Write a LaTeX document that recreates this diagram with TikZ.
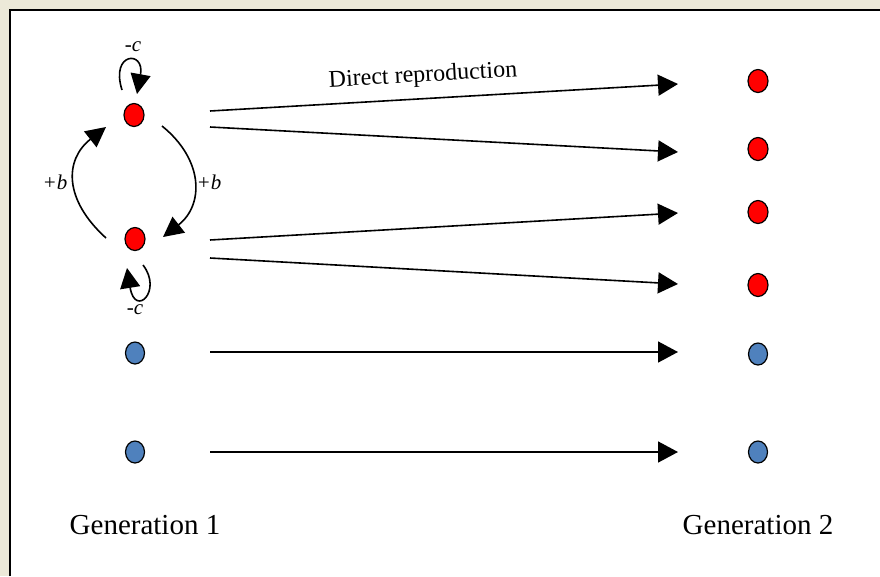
\documentclass[tikz,border=0pt]{standalone}
\usepackage{fontspec}
\setmainfont{Liberation Serif}
\usetikzlibrary{arrows.meta,shapes.geometric,calc}
\definecolor{pagebg}{HTML}{ECE9D8}
\definecolor{cellred}{HTML}{FF0000}
\definecolor{cellblue}{HTML}{4F81BD}
\begin{document}
\begin{tikzpicture}[x=1pt,y=-1pt,
  cell/.style={ellipse,draw=black,line width=1.2pt,inner sep=0pt,minimum width=20pt,minimum height=23pt},
  redcell/.style={cell,fill=cellred},
  bluecell/.style={cell,fill=cellblue,minimum width=19pt,minimum height=22pt},
  repro/.style={line width=1.6pt,-{Triangle[length=20pt,width=21pt]}},
  interact/.style={line width=1.6pt,-{Triangle[length=20pt,width=20pt]}},
  coef/.style={font=\fontsize{21}{23}\selectfont\itshape,inner sep=0pt},
  genlabel/.style={font=\fontsize{29}{32}\selectfont,inner sep=0pt}]
\useasboundingbox (0,0) rectangle (880,576);
% page and frame
\fill[pagebg] (0,0) rectangle (880,576);
\fill[white] (9.5,10) rectangle (880,576);
\draw[line width=2pt] (9.5,576) -- (9.5,10) -- (880,10);

% generation 1
\node[redcell]  (a1) at (134,115) {};
\node[redcell]  (a2) at (135,239) {};
\node[bluecell] (a3) at (135,353) {};
\node[bluecell] (a4) at (135,452) {};
% generation 2
\node[redcell]  (b1) at (758,81)  {};
\node[redcell]  (b2) at (758,149) {};
\node[redcell]  (b3) at (758,212) {};
\node[redcell]  (b4) at (758,285) {};
\node[bluecell] (b5) at (758,354) {};
\node[bluecell] (b6) at (758,452) {};

% direct reproduction
\draw[repro] ($(a1)+(76,-4)$)  -- ($(b1)+(-80,3)$);
\draw[repro] ($(a1)+(76,12)$)  -- ($(b2)+(-80,3)$);
\draw[repro] ($(a2)+(75,1)$)   -- ($(b3)+(-80,1)$);
\draw[repro] ($(a2)+(75,19)$)  -- ($(b4)+(-80,-1)$);
\draw[repro] ($(a3)+(75,-1)$)  -- ($(b5)+(-80,-2)$);
\draw[repro] ($(a4)+(75,0)$)   -- ($(b6)+(-80,0)$);
\node[font=\fontsize{24}{26}\selectfont,rotate=3.3,inner sep=0pt] (dr) at (423,76) {Direct reproduction};

% mutual benefit between the red cells
\draw[interact] ($(a2)+(-29,-1)$) .. controls +(-42,-38) and +(-42,33) .. ($(a1)+(-28,12)$);
\draw[interact] ($(a1)+(28,11)$) .. controls +(42,34) and +(41,-32) .. ($(a2)+(28,-2)$);
\node[coef] (bl) at (55,182) {+b};
\node[coef] (br) at (209,182) {+b};

% self cost loops
\draw[interact] ($(a1)+(-12,-25)$) .. controls +(-12,-38) and +(8,-44) .. ($(a1)+(3,-21)$);
\draw[interact] ($(a2)+(8,26)$) .. controls +(20,26) and +(8,50) .. ($(a2)+(-8,29)$);
\node[coef] (ct) at (133,47) {-c};
\node[coef] (cb) at (135,310) {-c};

% generation labels
\node[genlabel] (g1) at (145,525) {Generation 1};
\node[genlabel] (g2) at (758,525) {Generation 2};
\end{tikzpicture}
\end{document}
